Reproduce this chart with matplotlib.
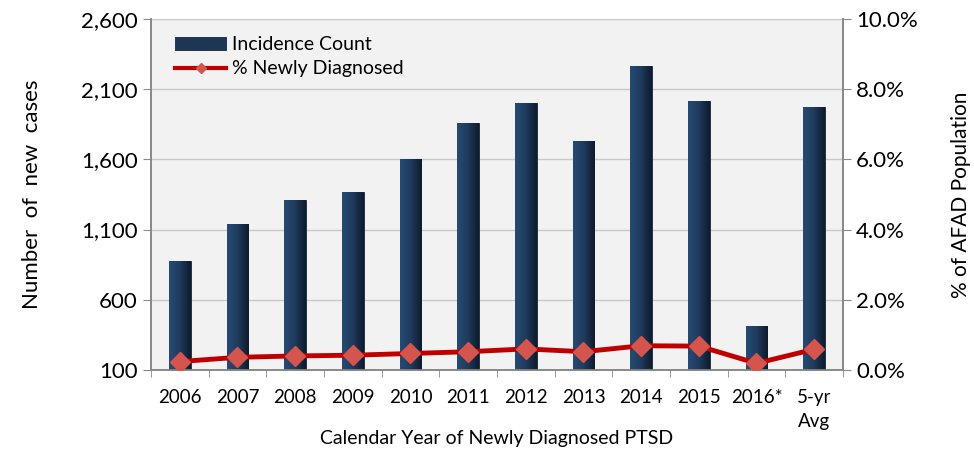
import numpy as np
import matplotlib.pyplot as plt
from matplotlib.ticker import FuncFormatter, FixedLocator
from matplotlib.lines import Line2D
from matplotlib.colors import LinearSegmentedColormap

plt.rcParams['font.family'] = ['Lato', 'DejaVu Sans']

# ===== Data =====
years = ['2006', '2007', '2008', '2009', '2010', '2011', '2012',
         '2013', '2014', '2015', '2016*', '5-yr\nAvg']
counts = [877, 1136, 1307, 1369, 1602, 1859, 2002, 1729, 2262, 2014, 414, 1974]
pct_new = [0.24, 0.36, 0.40, 0.42, 0.47, 0.52, 0.60, 0.52, 0.69, 0.68, 0.19, 0.59]

left_ticks = [100, 600, 1100, 1600, 2100, 2600]
right_ticks = [0, 2, 4, 6, 8, 10]

# ===== Figure =====
fig = plt.figure(figsize=(9.74, 4.49), dpi=100)
ax = fig.add_axes([0.155, 0.176, 0.7105, 0.782])
ax.set_facecolor('#f2f2f2')
x = np.arange(len(years))

bars = ax.bar(x, np.array(counts) - 100, bottom=100, width=0.38,
              color='#1d3656', edgecolor='#15263d', linewidth=0.6,
              label='Incidence Count', zorder=3)

# horizontal shading on the bars
grad_cmap = LinearSegmentedColormap.from_list('barg', ['#274a73', '#1f3b5e', '#0f1b2c'])
grad = np.linspace(0, 1, 64).reshape(1, -1)
for b in bars:
    bx, by = b.get_x(), b.get_y()
    im = ax.imshow(grad, cmap=grad_cmap, aspect='auto', zorder=3.5,
                   extent=[bx, bx + b.get_width(), by, by + b.get_height()])
    im.set_clip_path(b)

ax.set_xlim(-0.5, len(years) - 0.5)
ax.set_ylim(100, 2600)
ax.set_yticks(left_ticks)
ax.yaxis.set_major_formatter(FuncFormatter(lambda v, p: f'{int(v):,}'))
ax.grid(axis='y', color='#c8c8c8', linewidth=1.0, zorder=0)
ax.set_xticks(x)
ax.set_xticklabels(years, fontsize=13.5, linespacing=1.45)
ax.xaxis.set_minor_locator(FixedLocator(np.arange(-0.5, len(years), 1)))
ax.tick_params(axis='x', which='major', length=0, pad=14)
ax.tick_params(axis='x', which='minor', length=5, color='#888888', direction='out')
ax.tick_params(axis='y', labelsize=16, length=6, color='#888888', direction='out')
ax.set_ylabel('Number  of  new  cases', fontsize=16, labelpad=28)
ax.set_xlabel('Calendar Year of Newly Diagnosed PTSD', fontsize=14, labelpad=0)

ax.spines['top'].set_visible(False)
for s in ['left', 'right', 'bottom']:
    ax.spines[s].set_color('#888888')
    ax.spines[s].set_linewidth(1.2)

ax2 = ax.twinx()
ax2.set_ylim(0, 10)
ax2.set_yticks(right_ticks)
ax2.yaxis.set_major_formatter(FuncFormatter(lambda v, p: f'{v:.1f}%'))
ax2.tick_params(axis='y', labelsize=16, length=6, color='#888888', direction='out')
line, = ax2.plot(x, pct_new, color='#c00000', linewidth=3.5, marker='D',
                 markersize=10, markerfacecolor='#d4544e', markeredgecolor='#d4544e',
                 zorder=4)
ax2.set_ylabel('% of AFAD Population', fontsize=15, labelpad=24)
ax2.spines['top'].set_visible(False)
for s in ['left', 'right', 'bottom']:
    ax2.spines[s].set_color('#888888')
    ax2.spines[s].set_linewidth(1.2)

line_proxy = Line2D([], [], color='#c00000', linewidth=3, marker='D', markersize=5,
                    markerfacecolor='#d4544e', markeredgecolor='#d4544e')
leg = ax.legend([bars, line_proxy], ['Incidence Count', '% Newly Diagnosed'],
                loc='upper left', bbox_to_anchor=(0.01, 1.0), frameon=False,
                fontsize=14, handlelength=2.6, handleheight=0.6, labelspacing=0.35,
                handletextpad=0.3)
leg.set_zorder(10)

plt.savefig('out.png', dpi=100)
plt.close()
